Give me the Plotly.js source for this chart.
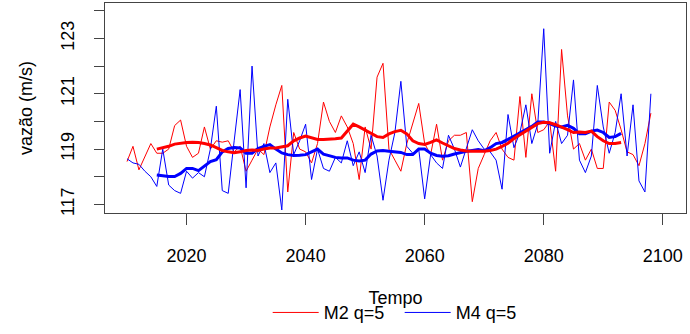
<!DOCTYPE html>
<html>
<head>
<meta charset="utf-8">
<script src="https://cdn.plot.ly/plotly-3.0.1.min.js"></script>
<style>html,body{margin:0;padding:0;background:#fff;}#chart{width:690px;height:334px;}</style>
</head>
<body>
<div id="chart"></div>
<script>
const years = [2010,2011,2012,2013,2014,2015,2016,2017,2018,2019,2020,2021,2022,2023,2024,2025,2026,2027,2028,2029,2030,2031,2032,2033,2034,2035,2036,2037,2038,2039,2040,2041,2042,2043,2044,2045,2046,2047,2048,2049,2050,2051,2052,2053,2054,2055,2056,2057,2058,2059,2060,2061,2062,2063,2064,2065,2066,2067,2068,2069,2070,2071,2072,2073,2074,2075,2076,2077,2078,2079,2080,2081,2082,2083,2084,2085,2086,2087,2088,2089,2090,2091,2092,2093,2094,2095,2096,2097,2098];
const m2 = [118.55,119.1,118.25,118.7,119.2,118.85,118.85,119.0,119.85,120.05,119.1,118.7,118.85,119.8,119.0,119.3,119.25,119.3,118.9,119.1,118.2,118.6,119.0,118.8,119.8,120.6,121.3,117.45,119.6,119.0,118.9,118.5,119.2,120.7,120.0,119.6,120.2,119.8,119.2,117.9,119.8,119.0,121.6,122.1,119.0,118.6,118.2,119.2,119.9,120.65,119.2,118.8,119.9,118.6,119.3,119.5,119.5,119.6,117.1,118.3,118.8,119.3,119.6,119.0,118.7,118.6,120.9,118.7,121.0,119.6,119.7,120.0,118.2,122.6,120.2,119.0,119.2,118.6,119.0,118.3,118.3,120.7,120.4,119.7,118.9,118.8,118.4,119.2,120.3];
const m4 = [118.65,118.5,118.45,118.2,118.0,117.65,119.0,117.7,117.5,117.4,118.2,117.95,118.15,118.0,119.0,120.55,117.5,117.4,119.3,121.15,117.6,122.0,118.75,119.2,118.15,118.5,116.8,120.8,118.8,119.3,119.9,117.9,119.0,118.3,118.2,118.7,118.5,119.3,118.4,118.9,118.15,119.5,118.75,117.15,118.6,119.6,121.45,119.1,118.85,119.0,117.2,118.8,118.5,118.3,119.5,119.0,118.35,119.0,119.7,119.3,119.0,118.9,118.6,117.55,120.25,119.05,119.6,120.6,119.2,119.9,123.35,118.85,120.0,119.2,119.5,121.5,118.6,118.15,118.75,121.3,119.8,118.85,119.6,121.0,118.75,120.6,117.85,117.45,121.0];
const yearsSmooth = [2015,2016,2017,2018,2019,2020,2021,2022,2023,2024,2025,2026,2027,2028,2029,2030,2031,2032,2033,2034,2035,2036,2037,2038,2039,2040,2041,2042,2043,2044,2045,2046,2047,2048,2049,2050,2051,2052,2053,2054,2055,2056,2057,2058,2059,2060,2061,2062,2063,2064,2065,2066,2067,2068,2069,2070,2071,2072,2073,2074,2075,2076,2077,2078,2079,2080,2081,2082,2083,2084,2085,2086,2087,2088,2089,2090,2091,2092,2093];
const m2Smooth = [119.0,119.05,119.1,119.18,119.22,119.24,119.25,119.24,119.2,119.15,119.05,118.95,118.9,118.87,118.9,118.95,118.97,118.95,119.0,119.04,119.04,119.07,119.12,119.3,119.4,119.47,119.42,119.35,119.35,119.35,119.37,119.4,119.65,119.9,119.8,119.69,119.55,119.45,119.42,119.55,119.63,119.68,119.55,119.3,119.2,119.17,119.24,119.33,119.22,119.12,119.02,118.97,118.93,118.92,118.92,118.92,118.95,119.0,119.1,119.21,119.38,119.52,119.65,119.8,119.92,119.97,119.95,119.88,119.8,119.7,119.6,119.62,119.6,119.65,119.45,119.3,119.2,119.2,119.24];
const m4Smooth = [118.06,118.03,118.01,118.01,118.12,118.3,118.3,118.22,118.4,118.55,118.62,118.9,119.02,119.06,119.04,118.85,118.85,119.02,119.1,119.16,119.0,118.86,118.8,118.77,118.78,118.8,118.9,119.0,118.82,118.75,118.7,118.68,118.68,118.6,118.57,118.6,118.82,118.93,118.95,118.92,118.9,118.88,118.8,118.8,119.0,119.0,118.85,118.77,118.74,118.76,118.82,118.88,118.92,118.95,118.98,118.94,119.05,119.2,119.24,119.35,119.47,119.58,119.68,119.82,119.98,119.98,119.92,119.83,119.8,119.86,119.75,119.55,119.55,119.65,119.69,119.6,119.42,119.45,119.57];
const seriesNames = ['M2 q=5','M4 q=5'];
const xTicks = [2020,2040,2060,2080,2100];
const yTicks = [117,118,119,120,121,122,123,124];
const yTickText = ['117','','119','','121','','123',''];

const font = 'Liberation Sans, Arial, sans-serif';
const traces = [
  {x: years, y: m2, type: 'scatter', mode: 'lines', name: seriesNames[0], line: {color: '#ff0000', width: 1}},
  {x: years, y: m4, type: 'scatter', mode: 'lines', name: seriesNames[1], line: {color: '#0000ff', width: 1}},
  {x: yearsSmooth, y: m4Smooth, type: 'scatter', mode: 'lines', showlegend: false, line: {color: '#0000ff', width: 3}},
  {x: yearsSmooth, y: m2Smooth, type: 'scatter', mode: 'lines', showlegend: false, line: {color: '#ff0000', width: 3}}
];
const layout = {
  width: 690, height: 334,
  margin: {l: 105, r: 4, t: 3, b: 116},
  paper_bgcolor: '#fff', plot_bgcolor: '#fff',
  font: {family: font, size: 18, color: '#000'},
  showlegend: true,
  legend: {orientation: 'h', x: 0.28, xanchor: 'left', y: -0.475, yanchor: 'middle', font: {size: 18},
           bgcolor: 'rgba(0,0,0,0)', itemwidth: 46, entrywidth: 71},
  xaxis: {
    range: [2006.3, 2103.9], tickvals: xTicks, ticks: 'outside', ticklen: 11, tickcolor: '#444',
    showgrid: false, zeroline: false, showline: true, linecolor: '#444', linewidth: 1, mirror: true,
    tickfont: {size: 18}, ticklabelstandoff: 15,
    title: {text: 'Tempo', font: {size: 18}, standoff: 26}
  },
  yaxis: {
    range: [116.69, 124.28], tickvals: yTicks, ticktext: yTickText, tickangle: -90,
    ticks: 'outside', ticklen: 10, tickcolor: '#444',
    showgrid: false, zeroline: false, showline: true, linecolor: '#444', linewidth: 1, mirror: true,
    tickfont: {size: 18}, ticklabelstandoff: 13,
    title: {text: 'vazão (m/s)', font: {size: 18}, standoff: 20}
  }
};
Plotly.newPlot('chart', traces, layout, {displayModeBar: false, staticPlot: true});
</script>
</body>
</html>
